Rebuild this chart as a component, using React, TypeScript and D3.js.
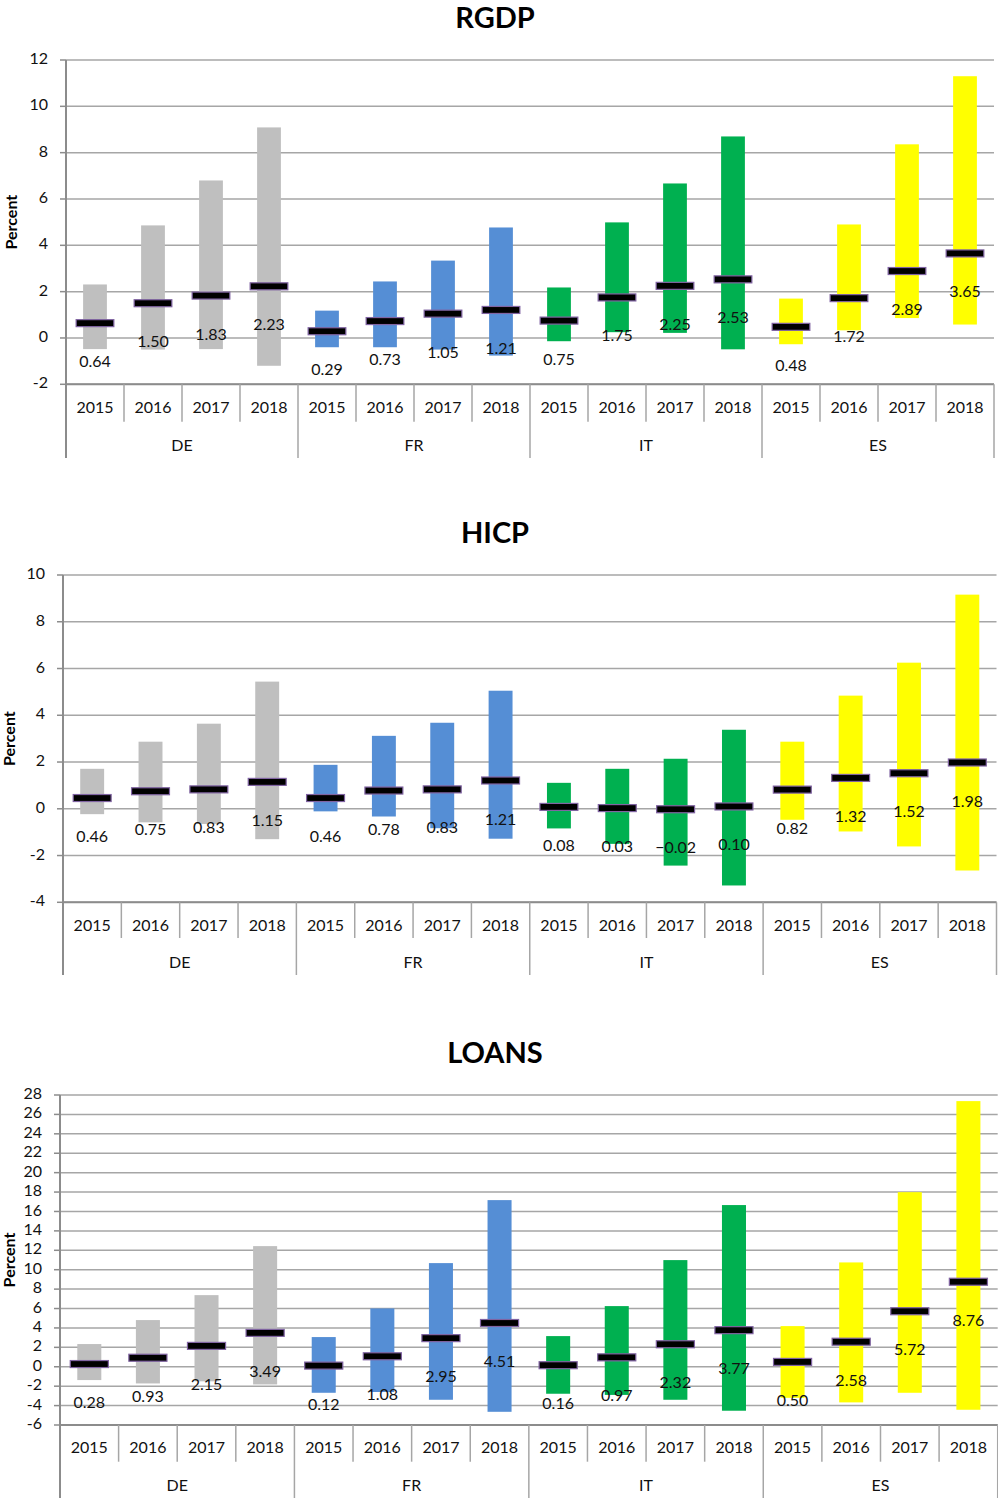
import React from 'react';
import * as d3 from 'd3';

const years = ['2015', '2016', '2017', '2018'];
const countries = ['DE', 'FR', 'IT', 'ES'];
const countryColors = ['#bfbfbf', '#558ed5', '#00b050', '#ffff00'];

// RGDP
const rgdpLow = [-0.48, -0.5, -0.48, -1.2, -0.4, -0.4, -0.5, -0.76, -0.14, 0.25, 0.22, -0.49, -0.27, 0.33, 0.86, 0.58];
const rgdpHigh = [2.31, 4.86, 6.8, 9.09, 1.18, 2.44, 3.34, 4.77, 2.18, 4.99, 6.67, 8.7, 1.7, 4.9, 8.36, 11.3];
const rgdpMedian = [0.64, 1.5, 1.83, 2.23, 0.29, 0.73, 1.05, 1.21, 0.75, 1.75, 2.25, 2.53, 0.48, 1.72, 2.89, 3.65];

// HICP
const hicpLow = [-0.23, -0.58, -0.65, -1.3, -0.11, -0.33, -0.83, -1.28, -0.84, -1.5, -2.43, -3.28, -0.47, -0.97, -1.61, -2.64];
const hicpHigh = [1.71, 2.87, 3.64, 5.44, 1.88, 3.12, 3.68, 5.05, 1.11, 1.71, 2.14, 3.38, 2.87, 4.84, 6.25, 9.16];
const hicpMedian = [0.46, 0.75, 0.83, 1.15, 0.46, 0.78, 0.83, 1.21, 0.08, 0.03, -0.02, 0.1, 0.82, 1.32, 1.52, 1.98];

// LOANS
const loansLow = [-1.37, -1.72, -1.5, -1.82, -2.68, -2.6, -3.4, -4.64, -2.78, -2.9, -3.4, -4.53, -3.2, -3.67, -2.68, -4.43];
const loansHigh = [2.34, 4.81, 7.38, 12.43, 3.06, 6.01, 10.68, 17.17, 3.16, 6.25, 10.99, 16.66, 4.19, 10.75, 17.99, 27.37];
const loansMedian = [0.28, 0.93, 2.15, 3.49, 0.12, 1.08, 2.95, 4.51, 0.16, 0.97, 2.32, 3.77, 0.5, 2.58, 5.72, 8.76];

const rgdpTicks = [-2, 0, 2, 4, 6, 8, 10, 12];
const hicpTicks = [-4, -2, 0, 2, 4, 6, 8, 10];
const loansTicks = [-6, -4, -2, 0, 2, 4, 6, 8, 10, 12, 14, 16, 18, 20, 22, 24, 26, 28];

const FONT = 'Lato, "Open Sans", sans-serif';

type Layout = {
  titleX: number;
  titleY: number;
  x0: number;
  x1: number;
  yTop: number;
  yBottom: number;
  yearSepBottom: number;
  countrySepBottom: number;
  yearLabelY: number;
  countryLabelY: number;
  percentX: number;
};

type PanelProps = {
  title: string;
  low: number[];
  high: number[];
  median: number[];
  ticks: number[];
  layout: Layout;
};

const Panel = ({ title, low, high, median, ticks, layout }: PanelProps) => {
  const L = layout;
  const cats = d3.range(countries.length * years.length);
  const x = d3.scaleBand<number>().domain(cats).range([L.x0, L.x1]).padding(0);
  const y = d3
    .scaleLinear()
    .domain([d3.min(ticks) as number, d3.max(ticks) as number])
    .range([L.yBottom, L.yTop]);
  const bw = x.bandwidth();
  const barW = bw * 0.41;
  const markW = bw * 0.65;
  const markH = 7;
  const fmt = d3.format('.2f');
  const gridColor = '#a6a6a6';
  const axisColor = '#8c8c8c';

  return (
    <g>
      <text
        x={L.titleX}
        y={L.titleY}
        textAnchor="middle"
        fontFamily={FONT}
        fontWeight="bold"
        fontSize={29}
        fill="#000"
      >
        {title}
      </text>
      {ticks.map((t) => (
        <g key={'g' + t}>
          <line x1={L.x0} x2={L.x1} y1={y(t)} y2={y(t)} stroke={gridColor} strokeWidth={1.5} />
          <line x1={L.x0 - 6} x2={L.x0} y1={y(t)} y2={y(t)} stroke={axisColor} strokeWidth={1.5} />
          <text
            x={L.x0 - 18}
            y={y(t)}
            textAnchor="end"
            dominantBaseline="middle"
            fontFamily={FONT}
            fontSize={16}
            fill="#111"
          >
            {t}
          </text>
        </g>
      ))}
      {cats.map((i) => {
        const c = Math.floor(i / years.length);
        const cx = (x(i) as number) + bw / 2;
        return (
          <rect
            key={'b' + i}
            x={cx - barW / 2}
            width={barW}
            y={y(high[i])}
            height={y(low[i]) - y(high[i])}
            fill={countryColors[c]}
          />
        );
      })}
      {cats.map((i) => {
        const cx = (x(i) as number) + bw / 2;
        return (
          <rect
            key={'m' + i}
            x={cx - markW / 2}
            width={markW}
            y={y(median[i]) - markH / 2}
            height={markH}
            fill="#000"
            stroke="#8064a2"
            strokeWidth={1.2}
          />
        );
      })}
      {cats.map((i) => {
        const cx = (x(i) as number) + bw / 2;
        return (
          <text
            key={'l' + i}
            x={cx}
            y={y(median[i]) + 40}
            textAnchor="middle"
            dominantBaseline="middle"
            fontFamily={FONT}
            fontSize={16}
            fill="#111"
          >
            {fmt(median[i])}
          </text>
        );
      })}
      {/* axes */}
      <line x1={L.x0} x2={L.x1} y1={L.yBottom} y2={L.yBottom} stroke={axisColor} strokeWidth={2} />
      <line x1={L.x0} x2={L.x0} y1={L.yTop} y2={L.countrySepBottom} stroke={axisColor} strokeWidth={2} />
      {d3.range(cats.length + 1).map((k) => {
        const xx = k < cats.length ? (x(k) as number) : L.x1;
        const isCountry = k % years.length === 0;
        if (k === 0) return null;
        return (
          <line
            key={'s' + k}
            x1={xx}
            x2={xx}
            y1={L.yBottom}
            y2={isCountry ? L.countrySepBottom : L.yearSepBottom}
            stroke={gridColor}
            strokeWidth={1.5}
          />
        );
      })}
      {cats.map((i) => (
        <text
          key={'y' + i}
          x={(x(i) as number) + bw / 2}
          y={L.yearLabelY}
          textAnchor="middle"
          dominantBaseline="middle"
          fontFamily={FONT}
          fontSize={16}
          fill="#111"
        >
          {years[i % years.length]}
        </text>
      ))}
      {countries.map((cn, c) => (
        <text
          key={'c' + cn}
          x={(x(c * years.length) as number) + (bw * years.length) / 2}
          y={L.countryLabelY}
          textAnchor="middle"
          dominantBaseline="middle"
          fontFamily={FONT}
          fontSize={16}
          fill="#111"
        >
          {cn}
        </text>
      ))}
      <text
        transform={`translate(${L.percentX},${(L.yTop + L.yBottom) / 2}) rotate(-90)`}
        textAnchor="middle"
        dominantBaseline="middle"
        fontFamily={FONT}
        fontWeight="bold"
        fontSize={16}
        fill="#000"
      >
        Percent
      </text>
    </g>
  );
};

const rgdpLayout: Layout = {
  titleX: 495,
  titleY: 28,
  x0: 66,
  x1: 994,
  yTop: 60,
  yBottom: 384.3,
  yearSepBottom: 421.7,
  countrySepBottom: 458,
  yearLabelY: 409,
  countryLabelY: 447,
  percentX: 13,
};
const hicpLayout: Layout = {
  titleX: 495,
  titleY: 543,
  x0: 63,
  x1: 996.5,
  yTop: 575,
  yBottom: 902.3,
  yearSepBottom: 938,
  countrySepBottom: 975,
  yearLabelY: 927,
  countryLabelY: 964,
  percentX: 11,
};
const loansLayout: Layout = {
  titleX: 495,
  titleY: 1063,
  x0: 60,
  x1: 997.7,
  yTop: 1095,
  yBottom: 1425,
  yearSepBottom: 1461.7,
  countrySepBottom: 1498,
  yearLabelY: 1449,
  countryLabelY: 1487,
  percentX: 11,
};

export default function App() {
  return (
    <svg
      width={998}
      height={1501}
      style={{ position: 'absolute', left: 0, top: 0, background: '#fff' }}
    >
      <rect width={998} height={1501} fill="#fff" />
      <Panel title="RGDP" low={rgdpLow} high={rgdpHigh} median={rgdpMedian} ticks={rgdpTicks} layout={rgdpLayout} />
      <Panel title="HICP" low={hicpLow} high={hicpHigh} median={hicpMedian} ticks={hicpTicks} layout={hicpLayout} />
      <Panel title="LOANS" low={loansLow} high={loansHigh} median={loansMedian} ticks={loansTicks} layout={loansLayout} />
    </svg>
  );
}
